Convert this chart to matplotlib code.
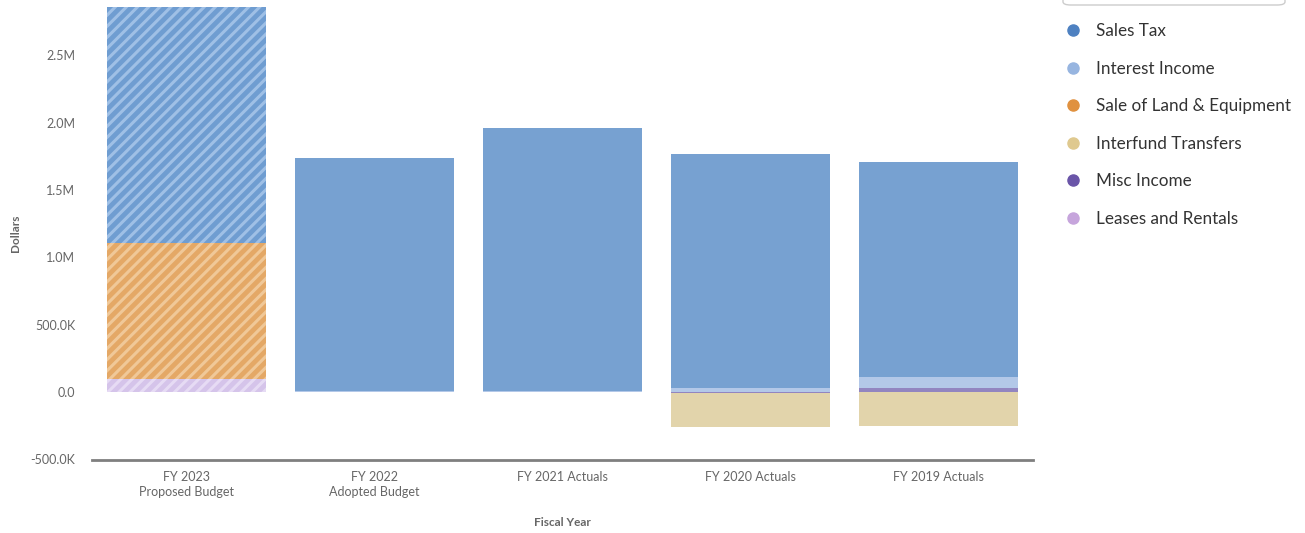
import matplotlib
matplotlib.use("Agg")
import matplotlib.pyplot as plt
from matplotlib.patches import FancyBboxPatch
from matplotlib.lines import Line2D
import numpy as np

plt.rcParams['font.family'] = ['Lato', 'DejaVu Sans']
plt.rcParams['hatch.linewidth'] = 2.2

categories = ["FY 2023\nProposed Budget", "FY 2022\nAdopted Budget",
              "FY 2021 Actuals", "FY 2020 Actuals", "FY 2019 Actuals"]
series_names = ["Sales Tax", "Interest Income", "Sale of Land & Equipment",
                "Interfund Transfers", "Misc Income", "Leases and Rentals"]

sales_tax = [1746000, 1729000, 1954000, 1734000, 1595000]
interest_income = [0, 8000, 5000, 33000, 79000]
sale_of_land = [1012000, 0, 0, 0, 0]
interfund_transfers = [0, 0, 0, -251000, -248000]
misc_income = [0, 0, 0, -10000, 34000]
leases_rentals = [98000, 0, 0, 0, 0]

legend_colors = ["#4e81c1", "#97b5e0", "#e0913f", "#dfc98f", "#6a55a8", "#c6a5dc"]
bar_colors = ["#77a1d1", "#b3c8e8", "#e8b070", "#e2d4ab", "#9285c0", "#dccbee"]
proj_colors = ["#6f9dd1", "#b3c8e8", "#e4a866", "#e2d4ab", "#9285c0", "#d5c4ea"]
hatch_colors = ["#9fc0e6", "#d2e0f3", "#f0c898", "#efe6cd", "#b5abd8", "#e6dbf4"]

# stacking order from the axis outward (last series sits nearest zero)
stack = [leases_rentals, misc_income, interfund_transfers, sale_of_land,
         interest_income, sales_tax]
stack_idx = [5, 4, 3, 2, 1, 0]

fig = plt.figure(figsize=(13.05, 5.33), dpi=100)
ax = fig.add_axes([92 / 1305, 1 - 459.5 / 533, 941 / 1305, (459.5 - 7) / 533])

x = np.arange(len(categories))
width = 0.845
pos_base = np.zeros(len(categories))
neg_base = np.zeros(len(categories))
for vals, si in zip(stack, stack_idx):
    vals = np.array(vals, dtype=float)
    for i, v in enumerate(vals):
        if v == 0:
            continue
        if v > 0:
            bottom = pos_base[i]
            pos_base[i] += v
        else:
            bottom = neg_base[i]
            neg_base[i] += v
        projected = (i == 0)
        ax.bar(x[i], v, width=width, bottom=bottom,
               color=proj_colors[si] if projected else bar_colors[si],
               linewidth=0,
               hatch="///" if projected else None,
               edgecolor=hatch_colors[si] if projected else "none")

ax.set_xlim(-0.5, 4.5)
ax.set_ylim(-500000, 2858000)
ax.set_yticks([-500000, 0, 500000, 1000000, 1500000, 2000000, 2500000])
ax.set_yticklabels(["-500.0K", "0.0", "500.0K", "1.0M", "1.5M", "2.0M", "2.5M"])
ax.set_xticks(x)
ax.set_xticklabels(categories, linespacing=1.35)

for s in ["top", "right", "left"]:
    ax.spines[s].set_visible(False)
ax.spines["bottom"].set_color("#7f7f7f")
ax.spines["bottom"].set_linewidth(2)
ax.tick_params(axis="y", length=0, pad=12, labelsize=9, labelcolor="#666666")
ax.tick_params(axis="x", length=0, pad=8, labelsize=9, labelcolor="#666666")

fig.text(16 / 1305, 1 - 233 / 533, "Dollars", rotation=90, ha="center", va="center",
         fontsize=8.5, fontweight="bold", color="#666666")
fig.text(562 / 1305, 1 - 523 / 533, "Fiscal Year", ha="center", va="center",
         fontsize=8.5, fontweight="bold", color="#666666")

# legend
legend_y = [31, 69, 106, 144, 181, 219]
for name, col, yy in zip(series_names, legend_colors, legend_y):
    fig.add_artist(Line2D([1073 / 1305], [1 - (yy - 1) / 533], marker="o",
                          markersize=8, color=col, linestyle="none",
                          transform=fig.transFigure))
    fig.text(1096 / 1305, 1 - yy / 533, name, ha="left", va="center",
             fontsize=12.3, color="#333333")

box = FancyBboxPatch((1063 / 1305, 1 - 5 / 533), 222 / 1305, 40 / 533,
                     boxstyle="round,pad=0,rounding_size=0.006",
                     transform=fig.transFigure, facecolor="white",
                     edgecolor="#cccccc", linewidth=1, figure=fig)
fig.patches.append(box)

fig.savefig("out.png", dpi=100)
